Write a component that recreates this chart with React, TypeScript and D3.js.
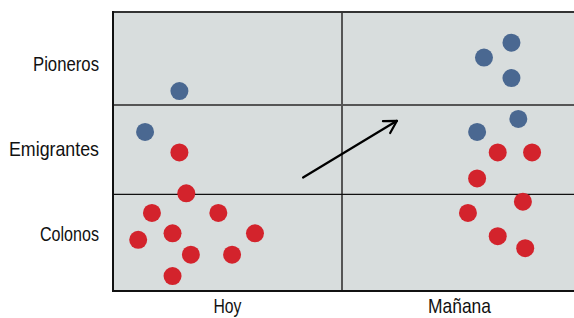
import React from 'react';
import * as d3 from 'd3';

const width = 574,
      height = 318,
      margin = { top: 12, right: 0, bottom: 27, left: 113 };

// rows, bottom to top
const groups = ['Colonos', 'Emigrantes', 'Pioneros'];
const groupLabelY = [0.62, 1.53, 2.45];
const groupLabelW = [59, 90, 66];
const rowBreaks = [1.04, 2];
const periods = ['Hoy', 'Mañana'];
const periodLabelW = [28, 63];

// x: 0-1 Hoy, 1-2 Mañana ; y: 0-3 rows
const blueDots = [
  [0.29, 2.15], [0.14, 1.71],
  [1.62, 2.51], [1.74, 2.67], [1.74, 2.29], [1.59, 1.71], [1.77, 1.85],
];
const redDots = [
  [0.29, 1.49], [0.32, 1.05], [0.17, 0.84], [0.46, 0.84], [0.11, 0.55],
  [0.26, 0.62], [0.62, 0.62], [0.34, 0.39], [0.52, 0.39], [0.26, 0.16],
  [1.68, 1.49], [1.83, 1.49], [1.59, 1.21], [1.79, 0.96], [1.55, 0.84],
  [1.68, 0.59], [1.80, 0.46],
];
const arrow = [[0.83, 1.22], [1.24, 1.83]];

const x = d3.scaleLinear().domain([0, 2]).range([margin.left, 571]);
const y = d3.scaleLinear().domain([0, 3]).range([height - margin.bottom, margin.top]);

// no condensed font installed, so squeeze a regular sans to the measured widths
const font = "'Liberation Sans', Arial, sans-serif";

export default function App() {
  const [[x0, y0], [x1, y1]] = arrow.map(([a, b]) => [x(a), y(b)]);
  const ang = Math.atan2(y1 - y0, x1 - x0);
  const head = 14, spread = 0.52;
  const hp = (s: number) => [x1 - head * Math.cos(ang + s), y1 - head * Math.sin(ang + s)];
  const [ha, hb] = [hp(spread), hp(-spread)];

  return (
    <svg width={width} height={height} style={{ position: 'absolute', left: 0, top: 0 }}>
      <rect x={x(0)} y={y(3)} width={width - x(0)} height={y(0) - y(3)} fill="#d8dddd" />

      {/* grid */}
      <line x1={x(1)} x2={x(1)} y1={y(3)} y2={y(0)} stroke="#555" strokeWidth={2} />
      <line x1={x(0)} x2={width} y1={y(rowBreaks[1])} y2={y(rowBreaks[1])} stroke="#555" strokeWidth={2} />
      <line x1={x(0)} x2={width} y1={y(rowBreaks[0])} y2={y(rowBreaks[0])} stroke="#111" strokeWidth={1.3} />
      <line x1={x(0)} x2={width} y1={y(3)} y2={y(3)} stroke="#333" strokeWidth={2} />
      <line x1={x(0)} x2={width} y1={y(0)} y2={y(0)} stroke="#111" strokeWidth={2} />
      <line x1={x(0)} x2={x(0)} y1={y(3) - 1} y2={y(0) + 1} stroke="#111" strokeWidth={2} />

      {blueDots.map(([a, b], i) =>
        <circle key={'b' + i} cx={x(a)} cy={y(b)} r={9} fill="#4a6891" />)}
      {redDots.map(([a, b], i) =>
        <circle key={'r' + i} cx={x(a)} cy={y(b)} r={9} fill="#d3232c" />)}

      <g fill="none" stroke="#000" strokeWidth={2.2} strokeLinecap="round" strokeLinejoin="round">
        <line x1={x0} y1={y0} x2={x1} y2={y1} />
        <polyline points={`${ha[0]},${ha[1]} ${x1},${y1} ${hb[0]},${hb[1]}`} />
      </g>

      {groups.map((g, i) =>
        <text key={g} x={99} y={y(groupLabelY[i])} dy="0.35em" textAnchor="end"
              textLength={groupLabelW[i]} lengthAdjust="spacingAndGlyphs"
              fontFamily={font} fontSize={21} fill="#111">{g}</text>)}
      {periods.map((p, i) =>
        <text key={p} x={(x(i) + x(i + 1)) / 2 + (i ? 3 : 0)} y={313} textAnchor="middle"
              textLength={periodLabelW[i]} lengthAdjust="spacingAndGlyphs"
              fontFamily={font} fontSize={21} fill="#111">{p}</text>)}
    </svg>
  );
}
